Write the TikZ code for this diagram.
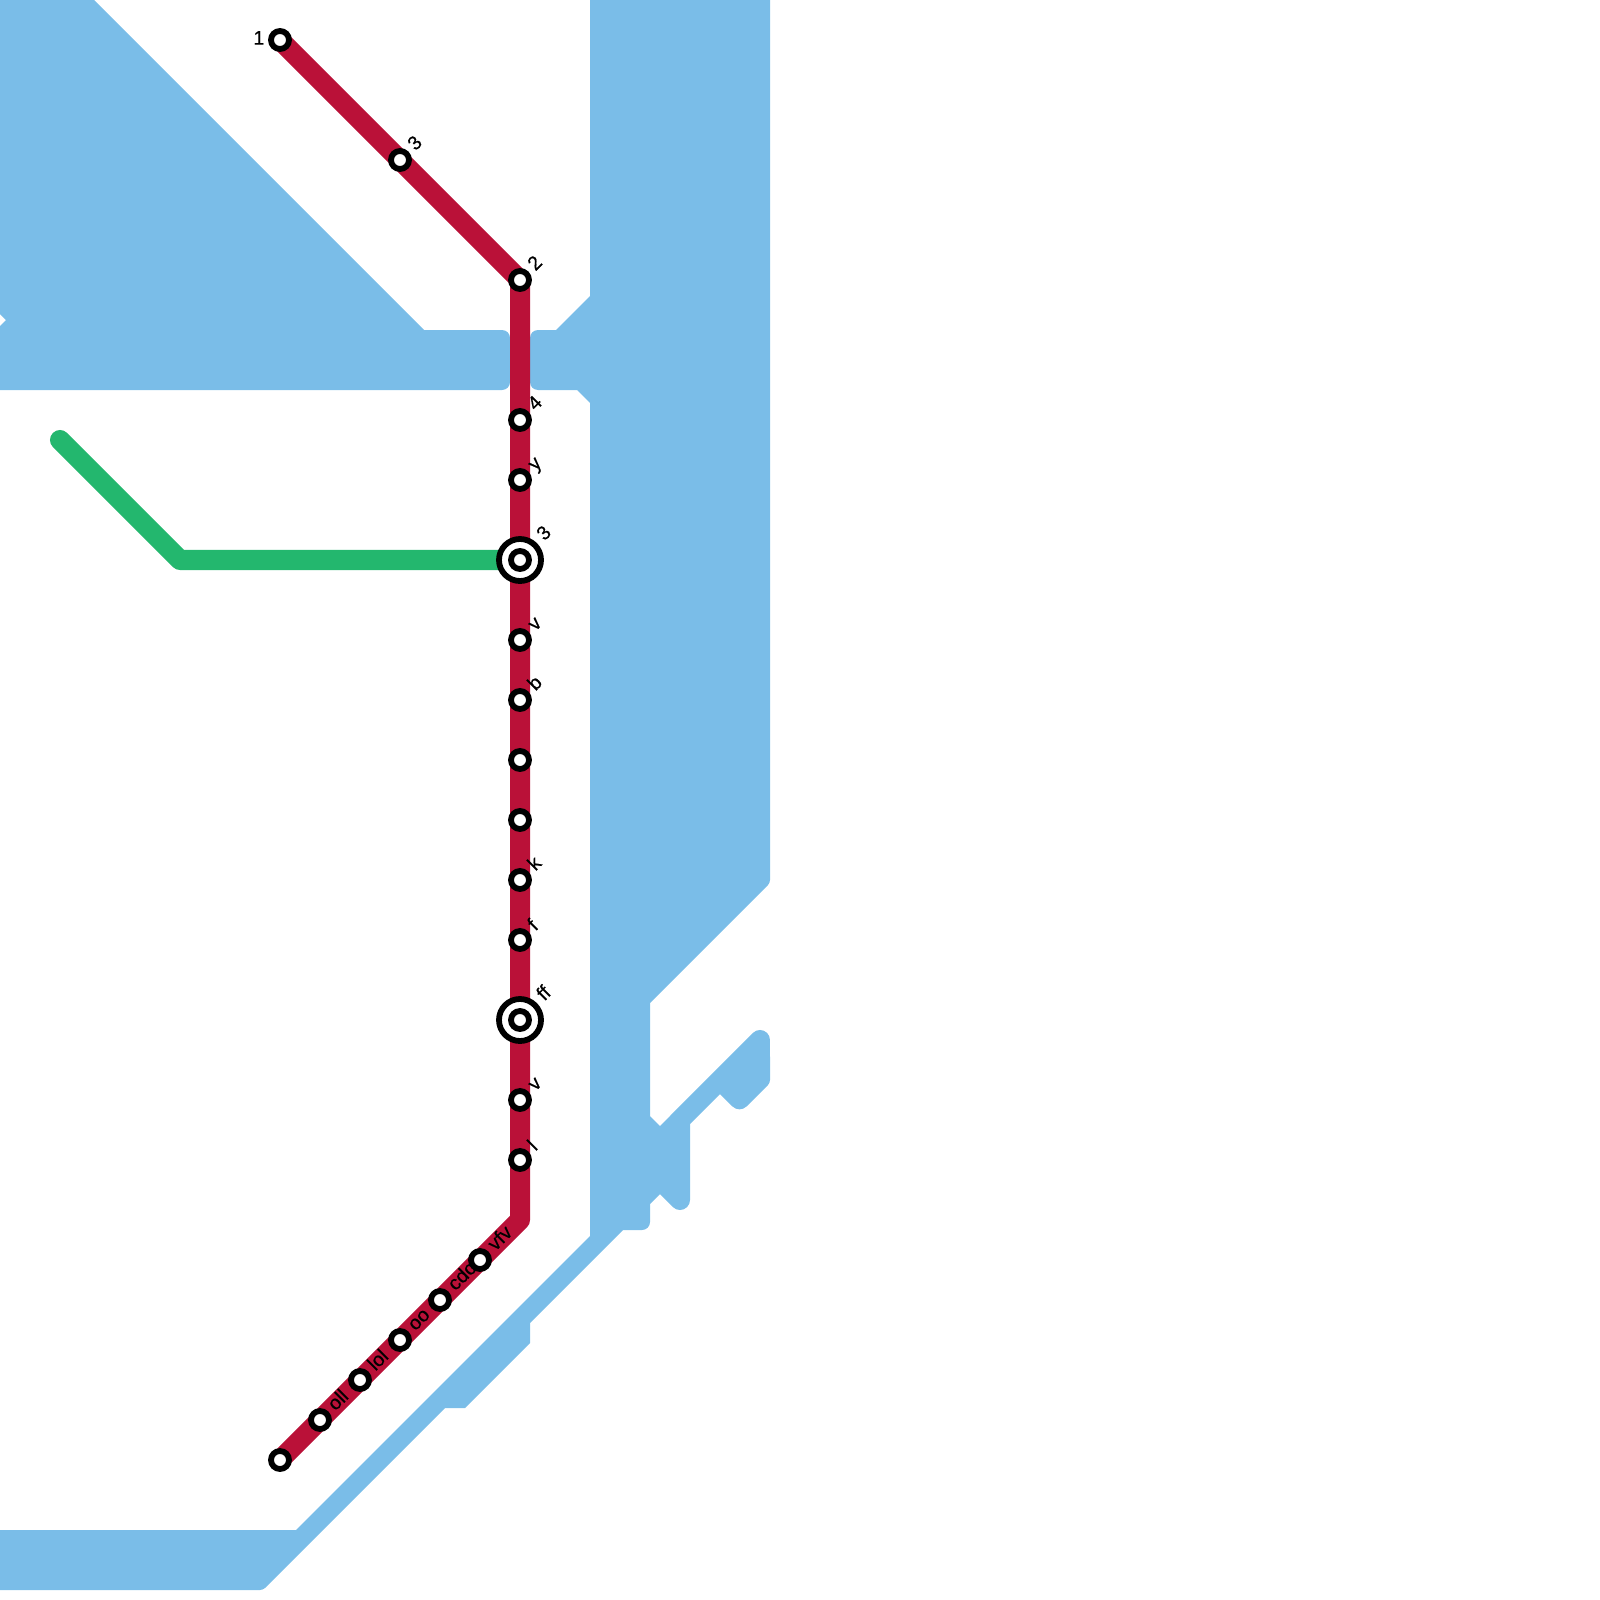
\documentclass[tikz,border=0pt]{standalone}
\usepackage{fontspec}
\setmainfont{Liberation Sans}
\newfontfamily\lblfont[FakeBold=0.4]{Liberation Sans}
\usepackage{xcolor}
\usetikzlibrary{positioning,backgrounds}
\definecolor{waterblue}{HTML}{7ABDE8}
\definecolor{linered}{HTML}{BA1138}
\definecolor{linegreen}{HTML}{23B76E}

\begin{document}
\begin{tikzpicture}[
  x=0.01cm, y=-0.01cm,
  water/.style={fill=waterblue},
  metro/.style={line width=0.2cm, line cap=round, line join=round},
  redline/.style={metro, draw=linered},
  greenline/.style={metro, draw=linegreen},
  stn/.style={circle, draw=black, fill=white, line width=0.058cm,
              minimum size=0.18cm, inner sep=0pt},
  hub/.style={stn, minimum size=0.42cm},
  txt/.style={font=\lblfont\fontsize{5.6}{6}\selectfont, text=black, inner sep=0pt},
  lbl/.style={txt, anchor=base west, shift={(15,-8)}, rotate=45},
  hublbl/.style={txt, anchor=base west, shift={(24,-18)}, rotate=45}
]
\useasboundingbox (0,0) rectangle (1600,1600);

% upper line
\node[stn] (st1) at (280,40) {};
\node[stn] (stc) at (400,160) {};
\node[stn] (st2) at (520,280) {};
% main line
\node[stn] (st4) at (520,420) {};
\node[stn] (sty) at (520,480) {};
\node[hub] (hubc) at (520,560) {};
\node[stn] (hubcin) at (520,560) {};
\node[stn] (stv) at (520,640) {};
\node[stn] (stb) at (520,700) {};
\node[stn] (stm) at (520,760) {};
\node[stn] (stn) at (520,820) {};
\node[stn] (stk) at (520,880) {};
\node[stn] (stf) at (520,940) {};
\node[hub] (hubf) at (520,1020) {};
\node[stn] (hubfin) at (520,1020) {};
\node[stn] (stw) at (520,1100) {};
\node[stn] (stl) at (520,1160) {};
% lower line
\node[stn] (stvfv) at (480,1260) {};
\node[stn] (stcdc) at (440,1300) {};
\node[stn] (stoo)  at (400,1340) {};
\node[stn] (stlol) at (360,1380) {};
\node[stn] (stoll) at (320,1420) {};
\node[stn] (stend) at (280,1460) {};

\coordinate (bendR)  at (520,1220);
\coordinate (bendG)  at (180,560);
\coordinate (startG) at (60,440);

\begin{scope}[on background layer]
\fill[water] (0,0) -- (94,0) -- (424,330)
  [rounded corners=0.08cm] -- (510,330) -- (510,390)
  [sharp corners] -- (0,390) -- (0,326) -- (6,320) -- (0,314) -- cycle;
\fill[water] (590,0) -- (770,0)
  [rounded corners=0.03cm] -- (770,883)
  [sharp corners] -- (650,1003) -- (650,1116) -- (660,1126)
  -- (752.9,1032.9) arc[start angle=135, end angle=0, radius=0.1cm]
  [rounded corners=0.03cm] -- (770,1083)
  [rounded corners=0.1cm] -- (739.5,1113.5)
  [sharp corners] -- (720,1094) -- (690,1124)
  -- (690,1200) arc[start angle=0, end angle=-135, radius=0.1cm]
  -- (660,1194) -- (650,1204)
  [rounded corners=0.08cm] -- (650,1230)
  [sharp corners] -- (623,1230) -- (530,1323) -- (530,1343)
  -- (465,1408) -- (445,1408)
  [rounded corners=0.03cm] -- (263,1590)
  [sharp corners] -- (0,1590) -- (0,1530) -- (296,1530) -- (590,1236)
  -- (590,403) -- (577,390)
  [rounded corners=0.08cm] -- (530,390) -- (530,330)
  [sharp corners] -- (556,330) -- (590,296) -- cycle;
\draw[greenline] (startG) -- (bendG) -- (hubc.center);
\draw[redline] (st1.center) -- (st2.center) -- (bendR) -- (stend.center);

\node[txt, left=0.03cm of st1, yshift=0.6pt] (lb1) {1};
\node[lbl] (lbc) at (stc.center) {3};
\node[lbl] (lb2) at (st2.center) {2};
\node[lbl] (lb4) at (st4.center) {4};
\node[lbl] (lby) at (sty.center) {y};
\node[hublbl] (lbhubc) at (hubc.center) {3};
\node[lbl] (lbv) at (stv.center) {v};
\node[lbl] (lbb) at (stb.center) {b};
\node[lbl] (lbk) at (stk.center) {k};
\node[lbl] (lbf) at (stf.center) {f};
\node[hublbl] (lbhubf) at (hubf.center) {ff};
\node[lbl] (lbw) at (stw.center) {v};
\node[lbl] (lbl) at (stl.center) {l};
\node[lbl] (lbvfv) at (stvfv.center) {vfv};
\node[lbl] (lbcdc) at (stcdc.center) {cdc};
\node[lbl] (lboo) at (stoo.center) {oo};
\node[lbl] (lblol) at (stlol.center) {lol};
\node[lbl] (lboll) at (stoll.center) {oll};
\end{scope}
\end{tikzpicture}
\end{document}
